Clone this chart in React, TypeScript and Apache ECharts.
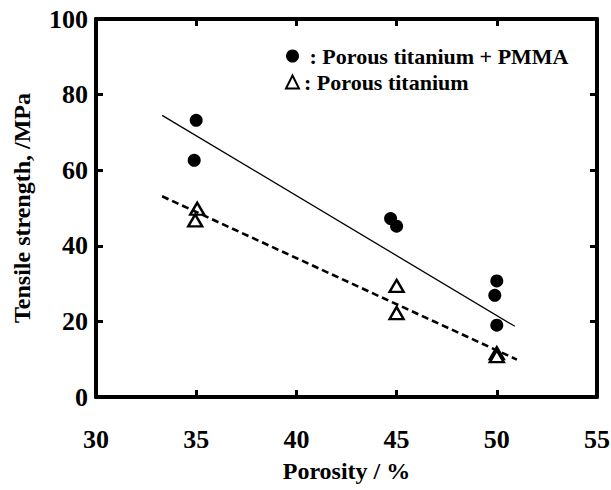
import React, { useEffect, useRef } from "react";
import * as echarts from "echarts";

const pmmaX = [35, 34.9, 44.7, 45.0, 50.0, 49.9, 50.0];
const pmmaY = [73.2, 62.6, 47.2, 45.2, 30.7, 26.9, 19.0];
const tiX = [35.05, 34.95, 45.0, 45.0, 50.0, 50.0];
const tiY = [49.8, 46.7, 29.4, 22.2, 11.6, 10.8];
const fitPmmaX = [33.3, 50.9];
const fitPmmaY = [74.5, 18.7];
const fitTiX = [33.3, 51.0];
const fitTiY = [53.1, 9.9];

const FONT = "Liberation Serif";
const INK = "#000";

function frameAxis(extra: any) {
  return {
    type: "value",
    axisLine: { show: true, onZero: false, lineStyle: { color: INK, width: 4 } },
    axisTick: { show: true, inside: true, length: 7, lineStyle: { color: INK, width: 3 } },
    splitLine: { show: false },
    ...extra,
  };
}

export default function App() {
  const ref = useRef<HTMLDivElement>(null);
  useEffect(() => {
    const chart = echarts.init(ref.current!, null, { renderer: "svg" });
    const pair = (xs: number[], ys: number[]) => xs.map((x, i) => [x, ys[i]]);
    chart.setOption({
      animation: false,
      backgroundColor: "#fff",
      grid: { left: 96, right: 14, top: 19, bottom: 93, outerBoundsMode: "none" },
      legend: {
        orient: "vertical",
        left: 280,
        top: 40,
        itemGap: 4,
        itemWidth: 13,
        itemHeight: 13,
        data: ["Porous titanium + PMMA", "Porous titanium"],
        formatter: (n: string) => (n === "Porous titanium" ? ": " + n : " : " + n),
        textStyle: { fontFamily: FONT, fontWeight: "bold", fontSize: 22, color: INK },
      },
      xAxis: [
        frameAxis({
          min: 30,
          max: 55,
          interval: 5,
          position: "bottom",
          name: "Porosity / %",
          nameLocation: "middle",
          nameGap: 62,
          nameTextStyle: { fontFamily: FONT, fontWeight: "bold", fontSize: 24, color: INK },
          axisLabel: { fontFamily: FONT, fontWeight: "bold", fontSize: 26, color: INK, margin: 29 },
        }),
        frameAxis({ min: 30, max: 55, interval: 5, position: "top", axisLabel: { show: false } }),
      ],
      yAxis: [
        frameAxis({
          min: 0,
          max: 100,
          interval: 20,
          position: "left",
          name: "Tensile strength, /MPa",
          nameLocation: "middle",
          nameGap: 62,
          nameTextStyle: { fontFamily: FONT, fontWeight: "bold", fontSize: 24, color: INK },
          axisLabel: { fontFamily: FONT, fontWeight: "bold", fontSize: 26, color: INK, margin: 8 },
        }),
        frameAxis({ min: 0, max: 100, interval: 20, position: "right", axisLabel: { show: false } }),
      ],
      series: [
        {
          type: "line",
          data: pair(fitPmmaX, fitPmmaY),
          symbol: "none",
          lineStyle: { color: INK, width: 1.3 },
          silent: true,
        },
        {
          type: "line",
          data: pair(fitTiX, fitTiY),
          symbol: "none",
          lineStyle: { color: INK, width: 2.6, type: [7, 4] },
          silent: true,
        },
        {
          name: "Porous titanium + PMMA",
          type: "scatter",
          data: pair(pmmaX, pmmaY),
          symbol: "circle",
          symbolSize: 13,
          itemStyle: { color: INK, opacity: 1 },
        },
        {
          name: "Porous titanium",
          type: "scatter",
          data: pair(tiX, tiY),
          symbol: "triangle",
          symbolSize: [14, 12],
          itemStyle: { color: "#fff", borderColor: INK, borderWidth: 2.4, opacity: 1 },
        },
      ],
    });
    return () => chart.dispose();
  }, []);
  return (
    <div
      ref={ref}
      style={{ position: "absolute", left: 0, top: 0, width: 611, height: 490 }}
    />
  );
}
